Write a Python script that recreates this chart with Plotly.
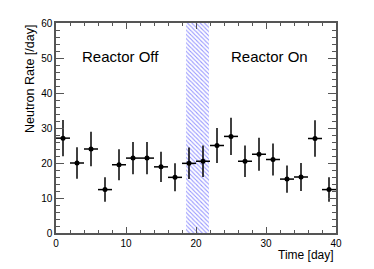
import plotly.graph_objects as go

# data
days = [1, 3, 5, 7, 9, 11, 13, 15, 17, 19, 21, 23, 25, 27, 29, 31, 33, 35, 37, 39]
rate = [27.1, 20.0, 24.0, 12.4, 19.5, 21.4, 21.4, 18.9, 15.9, 19.9, 20.5, 25.0, 27.6, 20.5, 22.5, 21.0, 15.4, 16.0, 27.0, 12.4]
rate_err = [5.2, 4.5, 4.9, 3.5, 4.4, 4.6, 4.6, 4.3, 4.0, 4.5, 4.5, 5.0, 5.3, 4.5, 4.7, 4.6, 3.9, 4.0, 5.2, 3.5]
day_half = [1.0] * len(days)

band_lo, band_hi = 18.55, 21.85
labels = ["Reactor Off", "Reactor On"]
label_x = [9.2, 30.5]
label_y = [50.3, 50.3]

FONT = "Liberation Sans, Arial, sans-serif"
AXC = "#555555"

fig = go.Figure()
fig.add_trace(go.Bar(
    x=[(band_lo + band_hi) / 2], y=[60], width=[band_hi - band_lo], base=0,
    marker=dict(color="rgba(0,0,0,0)", line=dict(width=0),
                pattern=dict(shape="\\", fgcolor="#3030ff", bgcolor="rgba(255,255,255,0)",
                             size=3, solidity=0.35, fillmode="overlay")),
    hoverinfo="skip", showlegend=False,
))
fig.add_trace(go.Scatter(
    x=days, y=rate, mode="markers",
    marker=dict(color="black", size=5),
    error_y=dict(type="data", array=rate_err, color="black", thickness=1.5, width=0),
    error_x=dict(type="data", array=day_half, color="black", thickness=1.5, width=0),
    showlegend=False,
))

for t, x, y in zip(labels, label_x, label_y):
    fig.add_annotation(x=x, y=y, text=t, showarrow=False, xref="x", yref="y",
                       font=dict(size=15, color="black", family=FONT))

fig.add_annotation(text="Neutron Rate [/day]", xref="paper", yref="paper", x=0, y=1,
                   xshift=-26, textangle=-90, xanchor="center", yanchor="top", showarrow=False,
                   font=dict(size=12.5, color="black", family=FONT))
fig.add_annotation(text="Time [day]", xref="paper", yref="paper", x=1, y=0,
                   yshift=-13, xanchor="right", yanchor="top", showarrow=False,
                   font=dict(size=12, color="black", family=FONT))

axis_common = dict(showgrid=False, zeroline=False, showline=True, linecolor=AXC, linewidth=1.5,
                   mirror="allticks", ticks="inside", tickcolor=AXC, tickwidth=1,
                   tickfont=dict(size=10, color="black", family=FONT))
fig.update_xaxes(range=[0, 40], dtick=10, tick0=0, ticklen=6,
                 minor=dict(dtick=2, ticklen=3, ticks="inside", tickcolor=AXC), **axis_common)
fig.update_yaxes(range=[0, 60], dtick=10, tick0=0, ticklen=8,
                 minor=dict(dtick=2, ticklen=4, ticks="inside", tickcolor=AXC), **axis_common)

fig.update_layout(width=374, height=269, margin=dict(l=56, r=38, t=23, b=36),
                  plot_bgcolor="white", paper_bgcolor="white", bargap=0)
fig.write_html("out.html", config={"displayModeBar": False},
               post_script="document.body.style.margin='0';document.body.style.padding='0';")
